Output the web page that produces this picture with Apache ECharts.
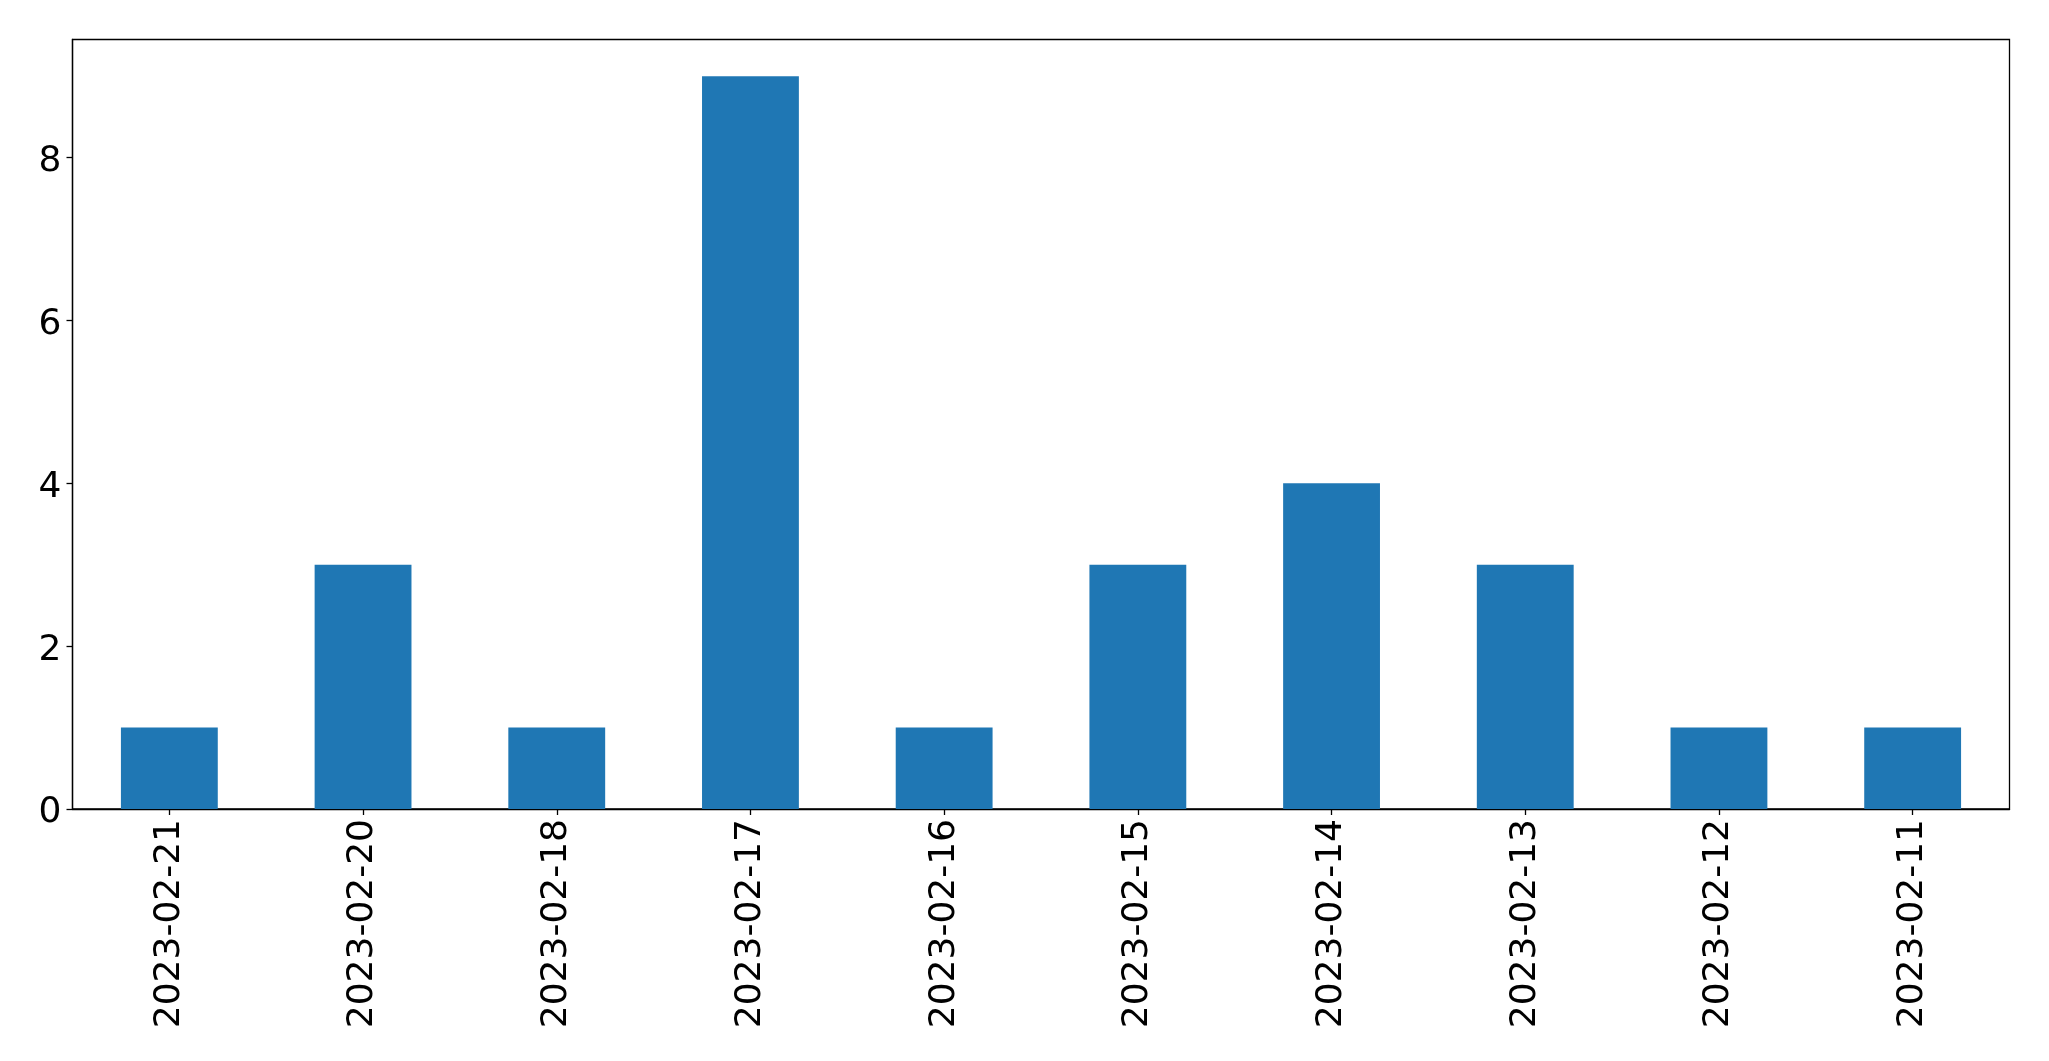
<!DOCTYPE html>
<html>
<head>
<meta charset="utf-8">
<script src="https://cdn.jsdelivr.net/npm/echarts@6/dist/echarts.min.js"></script>
<style>html,body{margin:0;padding:0;background:#fff}#c{width:2049px;height:1061px}</style>
</head>
<body>
<div id="c"></div>
<script>
const categories = ["2023-02-21","2023-02-20","2023-02-18","2023-02-17","2023-02-16","2023-02-15","2023-02-14","2023-02-13","2023-02-12","2023-02-11"];
const values = [1,3,1,9,1,3,4,3,1,1];
const yTicks = [0,2,4,6,8];

const chart = echarts.init(document.getElementById('c'), null, {renderer:'canvas'});
const font = 'DejaVu Sans';
chart.setOption({
  animation:false,
  backgroundColor:'#ffffff',
  grid:{left:72.5, right:39.5, top:39.5, bottom:252, show:true, borderColor:'#000', borderWidth:1.3, backgroundColor:'transparent'},
  xAxis:{
    type:'category', data:categories, boundaryGap:true,
    axisLine:{show:true, lineStyle:{color:'#000', width:1.3}},
    axisTick:{show:true, alignWithLabel:true, length:6, lineStyle:{color:'#000', width:1.3}},
    axisLabel:{rotate:90, fontFamily:font, fontSize:36, color:'#000', margin:10, interval:0},
    splitLine:{show:false}
  },
  yAxis:{
    type:'value', min:0, max:9.45,
    axisLine:{show:true, lineStyle:{color:'#000', width:1.3}},
    axisTick:{show:true, length:6, customValues:yTicks, lineStyle:{color:'#000', width:1.3}},
    axisLabel:{fontFamily:font, fontSize:36, color:'#000', margin:11, customValues:yTicks,
      formatter:'{a|{value}}',
      rich:{a:{fontFamily:font, fontSize:36, color:'#000', padding:[8,0,0,0]}}},
    splitLine:{show:false}
  },
  series:[{type:'bar', data:values, barWidth:'50%', itemStyle:{color:'#1f77b4'}}]
});
</script>
</body>
</html>
